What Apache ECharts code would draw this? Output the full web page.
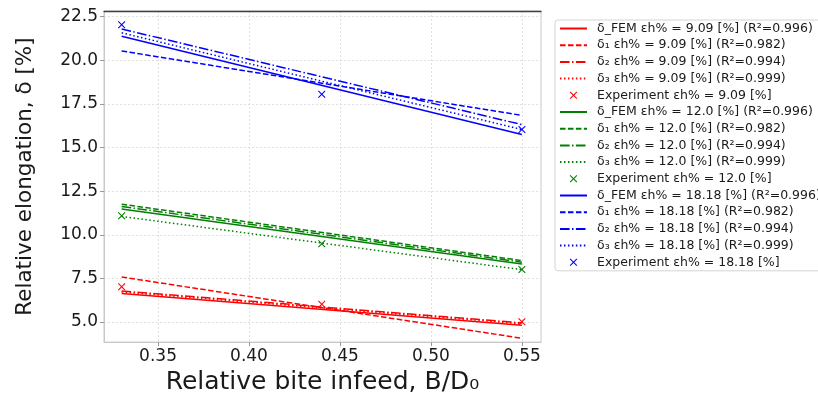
<!DOCTYPE html>
<html><head><meta charset="utf-8">
<script src="https://cdn.jsdelivr.net/npm/echarts@6/dist/echarts.min.js"></script>
<style>html,body{margin:0;padding:0;background:#fff}#c{width:818px;height:400px}</style>
</head><body><div id="c"></div>
<script>
const xLine = [0.33, 0.55];
const xExp = [0.33, 0.44, 0.55];
const xTicks = [0.35, 0.40, 0.45, 0.50, 0.55];
const yTicks = [5.0, 7.5, 10.0, 12.5, 15.0, 17.5, 20.0, 22.5];

const redFem = [6.64, 4.82];
const redD1 = [7.58, 4.07];
const redD2 = [6.78, 4.95];
const redD3 = [6.72, 4.90];
const redExp = [7.02, 6.02, 5.01];

const greenFem = [11.48, 8.33];
const greenD1 = [11.75, 8.52];
const greenD2 = [11.62, 8.43];
const greenD3 = [11.05, 8.00];
const greenExp = [11.09, 9.49, 8.01];

const blueFem = [21.37, 15.75];
const blueD1 = [20.53, 16.84];
const blueD2 = [21.79, 16.31];
const blueD3 = [21.57, 16.03];
const blueExp = [22.03, 18.05, 16.03];

const groups = [
  {eps: '9.09', color: '#ff0000', fem: redFem, d1: redD1, d2: redD2, d3: redD3, exp: redExp},
  {eps: '12.0', color: '#008000', fem: greenFem, d1: greenD1, d2: greenD2, d3: greenD3, exp: greenExp},
  {eps: '18.18', color: '#0000ff', fem: blueFem, d1: blueD1, d2: blueD2, d3: blueD3, exp: blueExp}
];
const r2 = {fem: '0.996', d1: '0.982', d2: '0.994', d3: '0.999'};
const lw = 1.5;
const dashes = {
  fem: 'solid',
  d1: [3.7*lw, 1.6*lw],
  d2: [6.4*lw, 1.6*lw, 1*lw, 1.6*lw],
  d3: [1*lw, 1.65*lw]
};
const labelPrefix = {fem: 'δ_FEM', d1: 'δ₁', d2: 'δ₂', d3: 'δ₃'};
// X-shaped marker, padded bounding box (-3..13) so legend icon stays small
const xPath = 'path://M-3,-3L-3,-3M13,13L13,13M0,1L1,0L5,4L9,0L10,1L6,5L10,9L9,10L5,6L1,10L0,9L4,5Z';

const series = [];
const legendData = [];
groups.forEach(g => {
  ['fem', 'd1', 'd2', 'd3'].forEach(k => {
    const name = labelPrefix[k] + ' εh% = ' + g.eps + ' [%] (R²=' + r2[k] + ')';
    legendData.push({name, itemStyle: {opacity: 0, color: 'transparent', borderWidth: 0}});
    series.push({
      name, type: 'line', symbol: 'none', showSymbol: false, silent: true,
      data: xLine.map((x, i) => [x, g[k][i]]),
      lineStyle: {color: g.color, width: lw, type: dashes[k]},
      itemStyle: {color: g.color},
      animation: false
    });
  });
  const ename = 'Experiment εh% = ' + g.eps + ' [%]';
  legendData.push({name: ename});
  series.push({
    name: ename, type: 'scatter', symbol: xPath, symbolSize: 12,
    data: xExp.map((x, i) => [x, g.exp[i]]),
    itemStyle: {color: g.color, opacity: 1},
    animation: false, z: 5
  });
});

const chart = echarts.init(document.getElementById('c'));
const fontFam = 'DejaVu Sans';
chart.setOption({
  animation: false,
  grid: {left: 104, right: 277, top: 11, bottom: 52, show: true, borderColor: '#c8c8c8', borderWidth: 1},
  legend: {
    data: legendData,
    orient: 'vertical', left: 555, top: 20,
    padding: [2, 30, 2, 4],
    itemWidth: 27, itemHeight: 12, itemGap: 3.7,
    backgroundColor: '#fff', borderColor: '#d4d4d4', borderWidth: 1, borderRadius: 3,
    selectedMode: false,
    textStyle: {fontFamily: fontFam, fontSize: 12.5, color: '#1a1a1a', padding: [0, 0, 0, 5]}
  },
  xAxis: [{
    type: 'value', min: 0.3203, max: 0.5605,
    name: 'Relative bite infeed, B/D₀', nameLocation: 'middle', nameGap: 26,
    nameTextStyle: {fontFamily: fontFam, fontSize: 25, color: '#1a1a1a'},
    axisLine: {show: true, lineStyle: {color: '#c8c8c8', width: 1}},
    axisTick: {show: true, length: 4, customValues: xTicks, lineStyle: {color: '#999'}},
    axisLabel: {customValues: xTicks, formatter: v => v.toFixed(2), fontFamily: fontFam, fontSize: 17, color: '#1a1a1a', margin: 6},
    splitLine: {show: true, lineStyle: {color: '#d8d8d8', type: [2, 2], width: 0.8}}
  }, {
    type: 'value', position: 'top', min: 0, max: 1,
    axisLine: {show: true, lineStyle: {color: '#404040', width: 1.3}},
    axisTick: {show: false}, axisLabel: {show: false}, splitLine: {show: false}
  }],
  yAxis: [{
    type: 'value', min: 3.85, max: 22.82,
    name: 'Relative elongation, δ [%]', nameLocation: 'middle', nameGap: 68, nameRotate: 90,
    nameTextStyle: {fontFamily: fontFam, fontSize: 21.5, color: '#1a1a1a'},
    axisLine: {show: true, lineStyle: {color: '#c8c8c8', width: 1}},
    axisTick: {show: true, length: 4, customValues: yTicks, lineStyle: {color: '#999'}},
    axisLabel: {customValues: yTicks, formatter: v => v.toFixed(1), fontFamily: fontFam, fontSize: 17, color: '#1a1a1a', margin: 6},
    splitLine: {show: true, lineStyle: {color: '#d8d8d8', type: [2, 2], width: 0.8}}
  }],
  series
});
</script></body></html>
